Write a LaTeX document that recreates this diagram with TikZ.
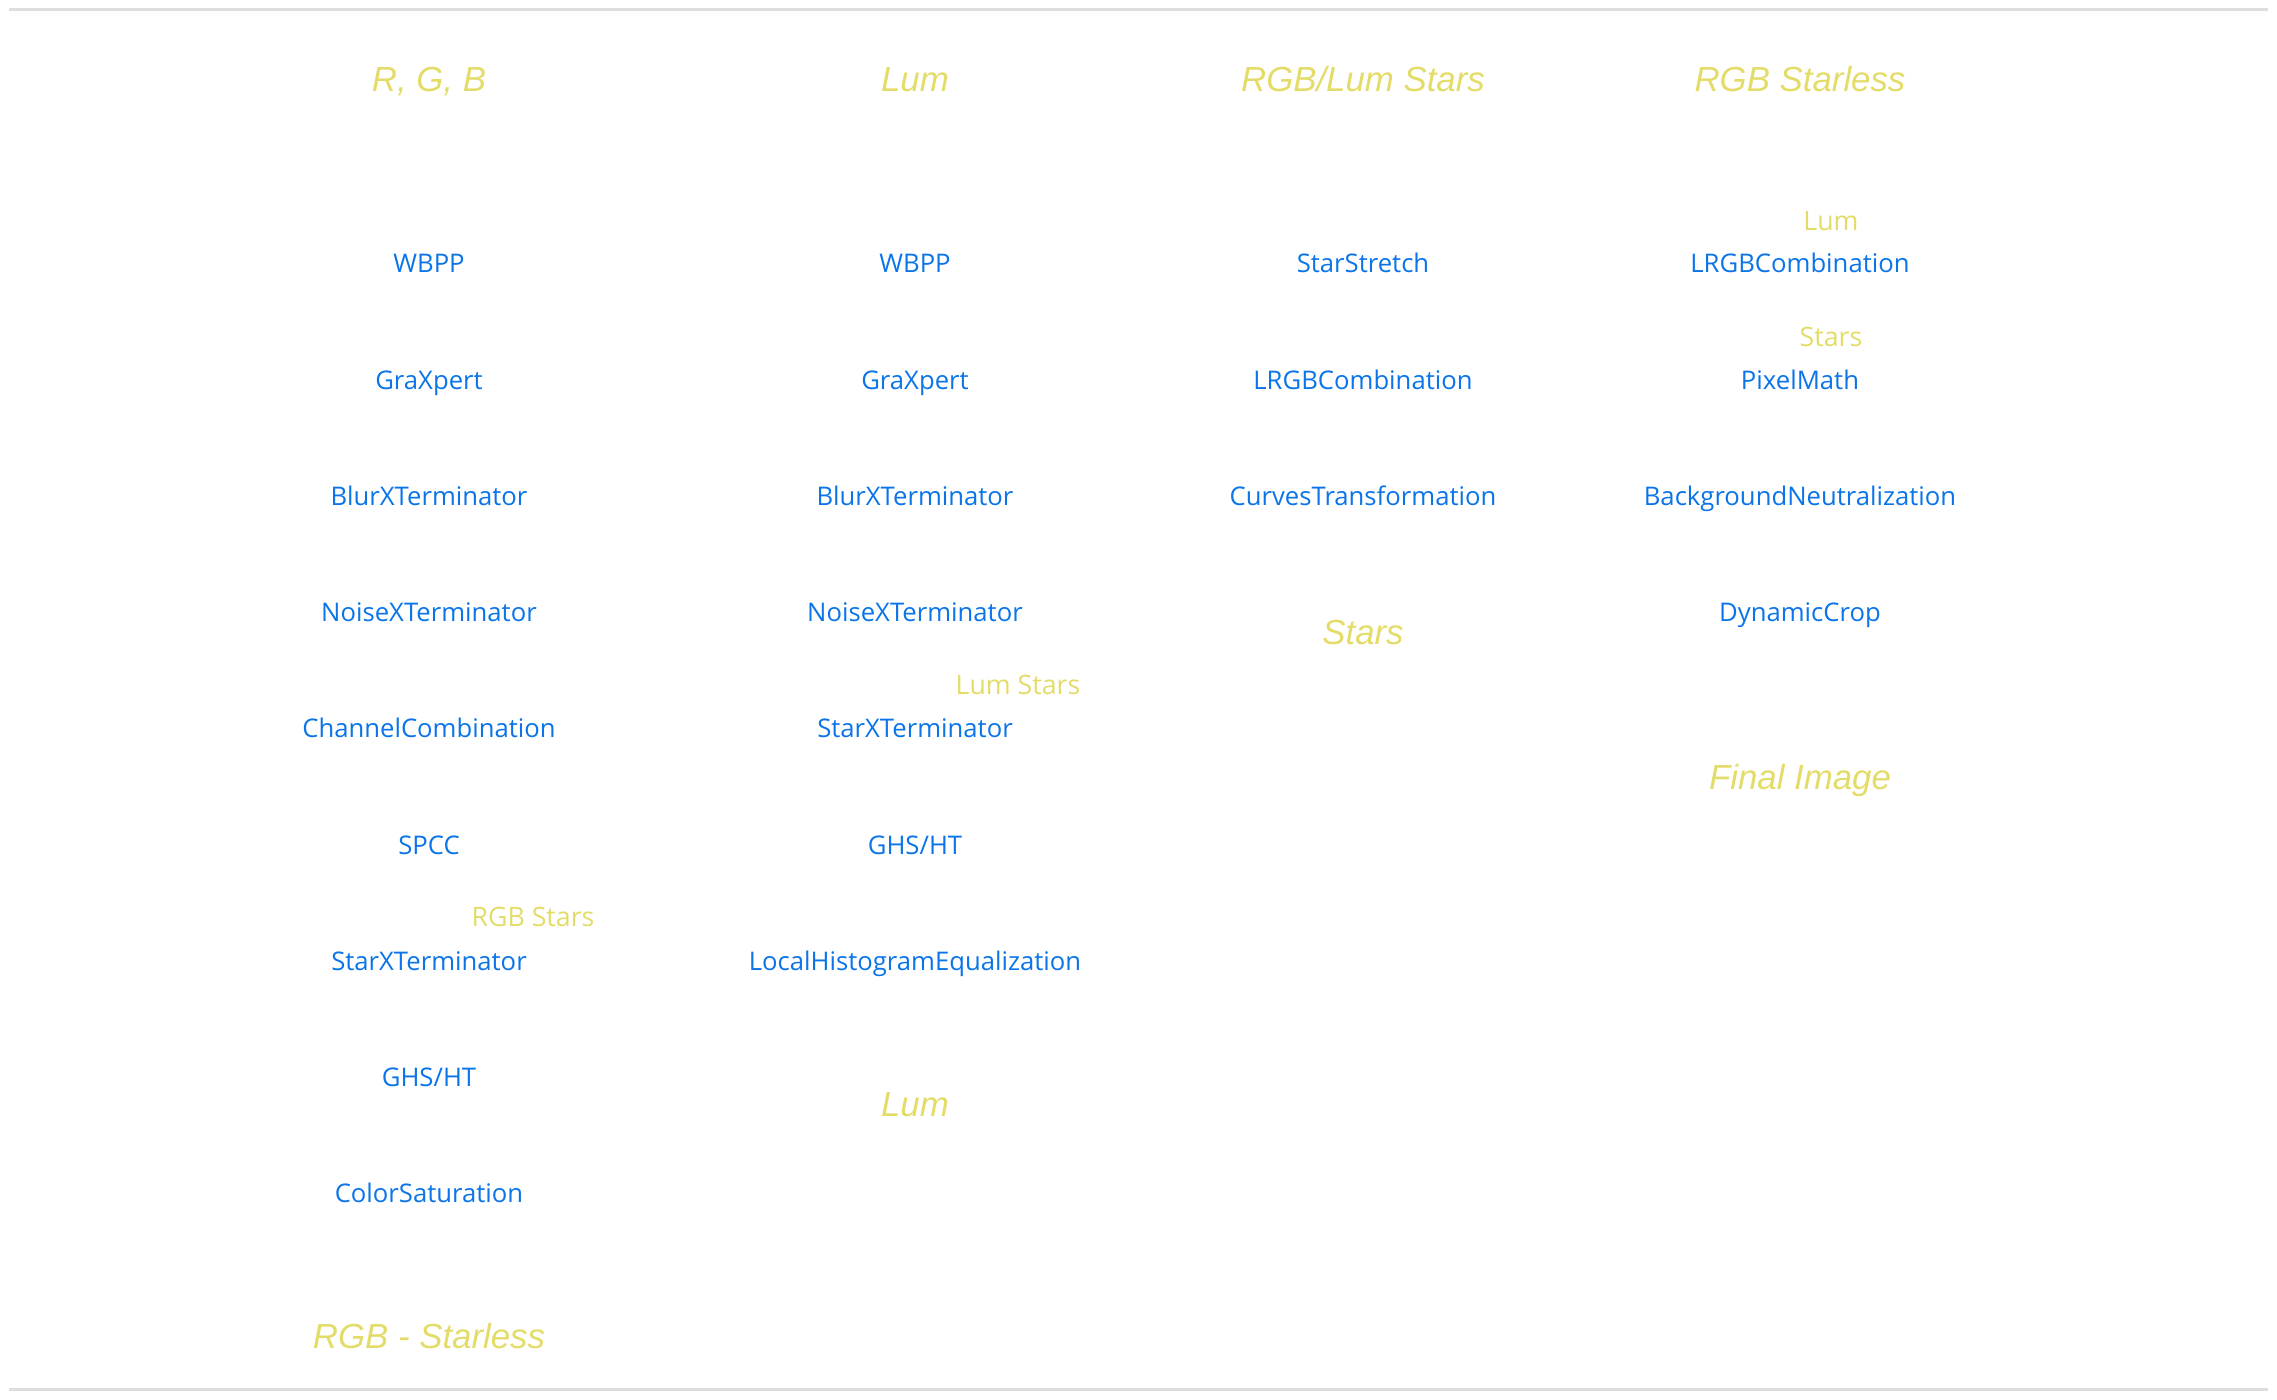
\documentclass[tikz,border=0pt]{standalone}
\usepackage{fontspec}
\setmainfont{Open Sans}
\newfontfamily\stagefont{Liberation Sans}
\definecolor{toolblue}{HTML}{0A74E8}
\definecolor{branchyellow}{HTML}{E3DC68}
\definecolor{rulegrey}{HTML}{DDDDDD}
\tikzset{
  tool/.style={text=toolblue, anchor=base, inner sep=0pt, font=\fontsize{7.3}{9}\selectfont},
  branch/.style={text=branchyellow, anchor=base, inner sep=0pt, font=\fontsize{7.6}{9}\selectfont},
  stage/.style={text=branchyellow, anchor=base, inner sep=0pt, font=\stagefont\itshape\fontsize{9.9}{12}\selectfont},
  rule/.style={rulegrey, line width=0.03cm}
}
\begin{document}
\begin{tikzpicture}[x=0.01cm, y=-0.01cm]

\useasboundingbox (0,0) rectangle (2277,1400);
\draw[rule] (9,10) -- (2268,10);
\draw[rule] (9,1389) -- (2268,1389);

% column titles
\node[stage] (trgb) at (429,92) {R, G, B};
\node[stage] (tlum) at (915,92) {Lum};
\node[stage] (tstars) at (1363,92) {RGB/Lum Stars};
\node[stage] (tstarless) at (1800,92) {RGB Starless};

% R, G, B
\foreach \t [count=\i] in {WBPP,GraXpert,BlurXTerminator,NoiseXTerminator,ChannelCombination,SPCC,StarXTerminator,GHS/HT,ColorSaturation}
  {\node[tool] (rgb\i) at (429,273+116.2*\i-116.2) {\t};}
\node[branch] (rgbstars) at (533,926) {RGB Stars};
\node[stage] (rgbout) at (429,1348) {RGB - Starless};

% Lum
\foreach \t [count=\i] in {WBPP,GraXpert,BlurXTerminator,NoiseXTerminator,StarXTerminator,GHS/HT,LocalHistogramEqualization}
  {\node[tool] (lum\i) at (915,273+116.2*\i-116.2) {\t};}
\node[branch] (lumstars) at (1018,694) {Lum Stars};
\node[stage] (lumout) at (915,1116) {Lum};

% RGB/Lum Stars
\foreach \t [count=\i] in {StarStretch,LRGBCombination,CurvesTransformation}
  {\node[tool] (star\i) at (1363,273+116.2*\i-116.2) {\t};}
\node[stage] (starout) at (1363,645) {Stars};

% RGB Starless
\foreach \t [count=\i] in {LRGBCombination,PixelMath,BackgroundNeutralization,DynamicCrop}
  {\node[tool] (fin\i) at (1800,273+116.2*\i-116.2) {\t};}
\node[branch] (finlum) at (1831,231) {Lum};
\node[branch] (finstars) at (1831,347) {Stars};
\node[stage] (finout) at (1800,790) {Final Image};

\end{tikzpicture}
\end{document}
